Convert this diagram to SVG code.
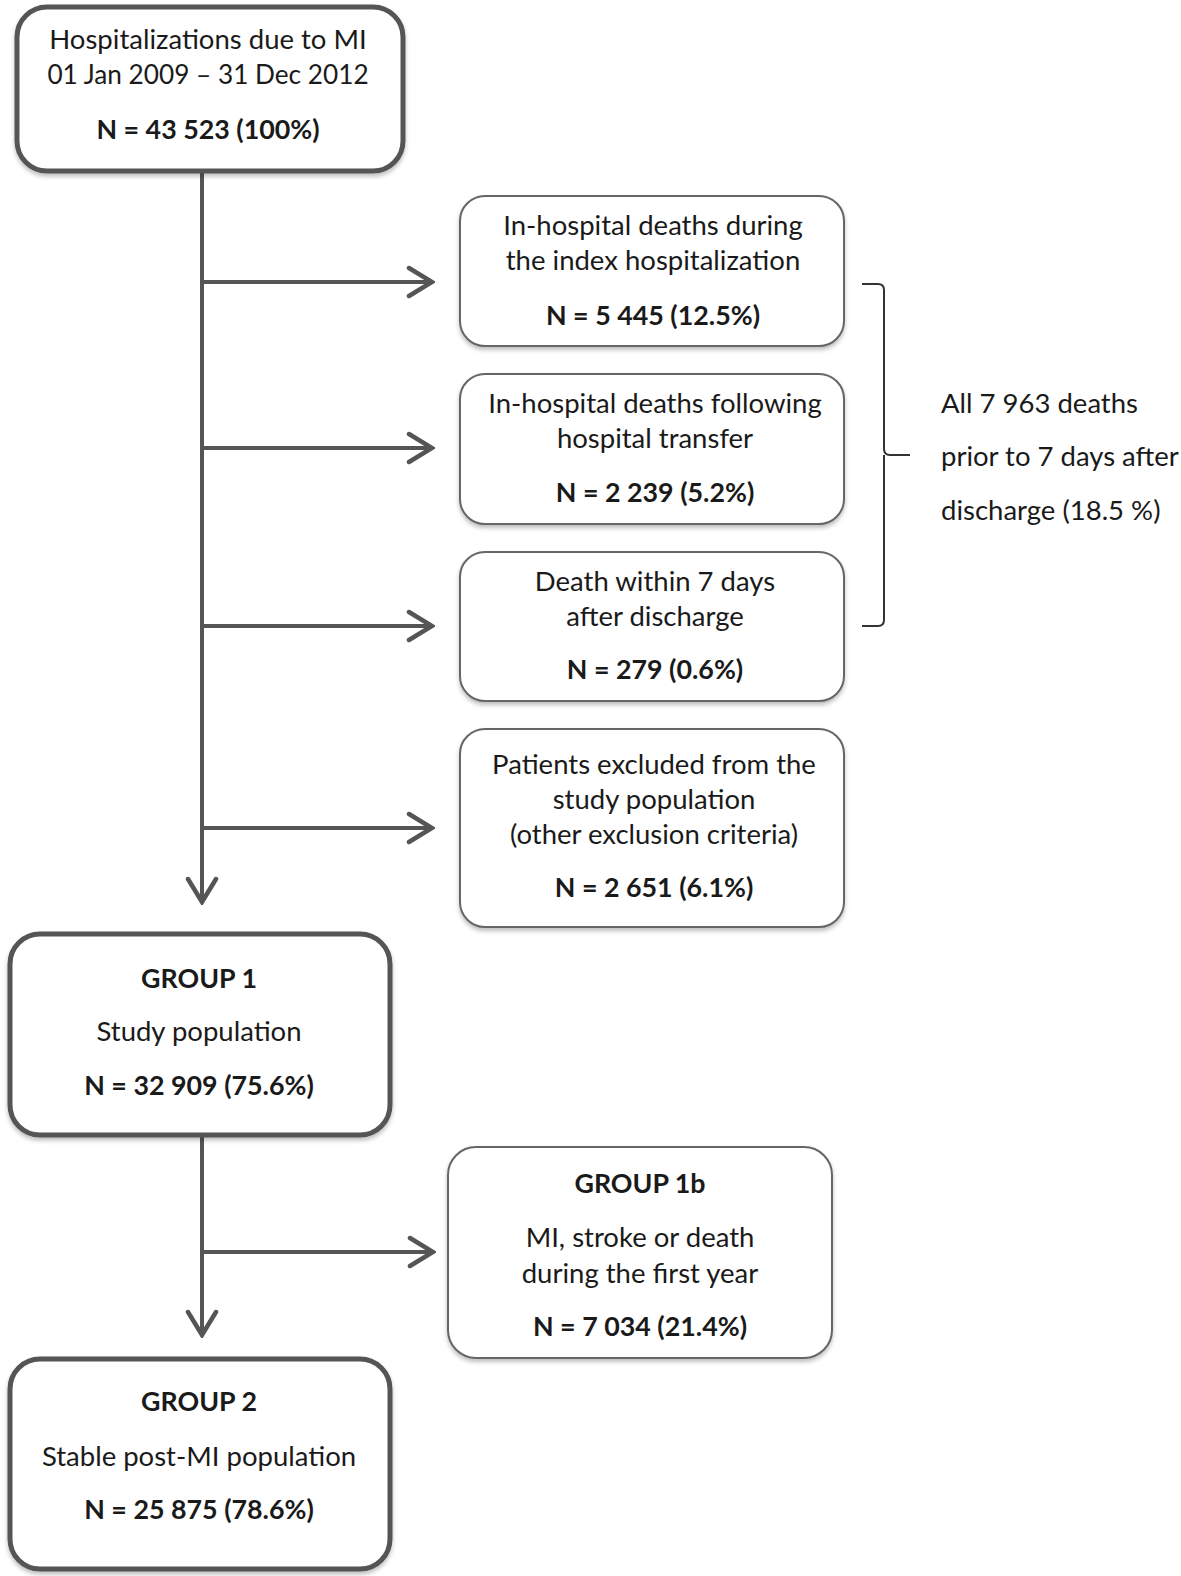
<svg xmlns="http://www.w3.org/2000/svg" width="1181" height="1576" viewBox="0 0 1181 1576">
<style>
text{font-family:Lato,"Open Sans","Liberation Sans",sans-serif;font-size:27.5px;fill:#1a1a1a;text-anchor:middle}
.b{font-weight:bold;font-size:26.8px}
.l{text-anchor:start}
.thick{fill:#fff;stroke:#555;stroke-width:5}
.thin{fill:#fff;stroke:#666;stroke-width:2}
.con{fill:none;stroke:#555;stroke-width:4}
</style>
<defs>
<marker id="ah" viewBox="0 0 30 34" refX="27" refY="17" markerWidth="30" markerHeight="34" markerUnits="userSpaceOnUse" orient="auto">
<path d="M4,3 L27,17 L4,31" fill="none" stroke="#555" stroke-width="4.5" stroke-linecap="round" stroke-linejoin="miter"/>
</marker>
<filter id="sh" x="-5%" y="-5%" width="110%" height="115%">
<feDropShadow dx="0" dy="3" stdDeviation="2" flood-color="#000" flood-opacity="0.25"/>
</filter>
</defs>
<g id="connectors">
<path class="con" d="M202,171 V902" marker-end="url(#ah)"/>
<path class="con" d="M202,282 H432" marker-end="url(#ah)"/>
<path class="con" d="M202,448 H432" marker-end="url(#ah)"/>
<path class="con" d="M202,626 H432" marker-end="url(#ah)"/>
<path class="con" d="M202,828 H432" marker-end="url(#ah)"/>
<path class="con" d="M202,1135 V1335" marker-end="url(#ah)"/>
<path class="con" d="M202,1252 H433" marker-end="url(#ah)"/>
</g>
<g id="n_top">
<rect class="thick" filter="url(#sh)" x="17" y="7" width="386" height="164" rx="30"/>
<text x="208" y="49">Hospitalizations due to MI</text>
<text x="208" y="84" style="font-size:26.2px">01 Jan 2009 – 31 Dec 2012</text>
<text class="b" x="208" y="139">N = 43 523 (100%)</text>
</g>
<g id="n_death1">
<rect class="thin" filter="url(#sh)" x="460" y="196" width="384" height="150" rx="25"/>
<text x="653" y="235">In-hospital deaths during</text>
<text x="653" y="270">the index hospitalization</text>
<text class="b" x="653" y="325">N = 5 445 (12.5%)</text>
</g>
<g id="n_death2">
<rect class="thin" filter="url(#sh)" x="460" y="374" width="384" height="150" rx="25"/>
<text x="655" y="413">In-hospital deaths following</text>
<text x="655" y="448">hospital transfer</text>
<text class="b" x="655" y="502">N = 2 239 (5.2%)</text>
</g>
<g id="n_death3">
<rect class="thin" filter="url(#sh)" x="460" y="552" width="384" height="149" rx="25"/>
<text x="655" y="591">Death within 7 days</text>
<text x="655" y="626">after discharge</text>
<text class="b" x="655" y="679">N = 279 (0.6%)</text>
</g>
<g id="n_excl">
<rect class="thin" filter="url(#sh)" x="460" y="729" width="384" height="198" rx="25"/>
<text x="654" y="774">Patients excluded from the</text>
<text x="654" y="809">study population</text>
<text x="654" y="844">(other exclusion criteria)</text>
<text class="b" x="654" y="897">N = 2 651 (6.1%)</text>
</g>
<g id="brace">
<path d="M862,284 H878 Q884,284 884,290 V449 Q884,455 890,455 H910 M884,455 Q884,461 884,467 V620 Q884,626 878,626 H862" fill="none" stroke="#333" stroke-width="2"/>
<text class="l" x="941" y="413">All 7 963 deaths</text>
<text class="l" x="941" y="466">prior to 7 days after</text>
<text class="l" x="941" y="520">discharge (18.5 %)</text>
</g>
<g id="n_group1">
<rect class="thick" filter="url(#sh)" x="10" y="934" width="380" height="201" rx="30"/>
<text class="b" x="199" y="988">GROUP 1</text>
<text x="199" y="1041">Study population</text>
<text class="b" x="199" y="1095">N = 32 909 (75.6%)</text>
</g>
<g id="n_group1b">
<rect class="thin" filter="url(#sh)" x="448" y="1147" width="384" height="211" rx="28"/>
<text class="b" x="640" y="1193">GROUP 1b</text>
<text x="640" y="1247">MI, stroke or death</text>
<text x="640" y="1283">during the first year</text>
<text class="b" x="640" y="1336">N = 7 034 (21.4%)</text>
</g>
<g id="n_group2">
<rect class="thick" filter="url(#sh)" x="10" y="1359" width="380" height="210" rx="30"/>
<text class="b" x="199" y="1411">GROUP 2</text>
<text x="199" y="1466">Stable post-MI population</text>
<text class="b" x="199" y="1519">N = 25 875 (78.6%)</text>
</g>
</svg>
